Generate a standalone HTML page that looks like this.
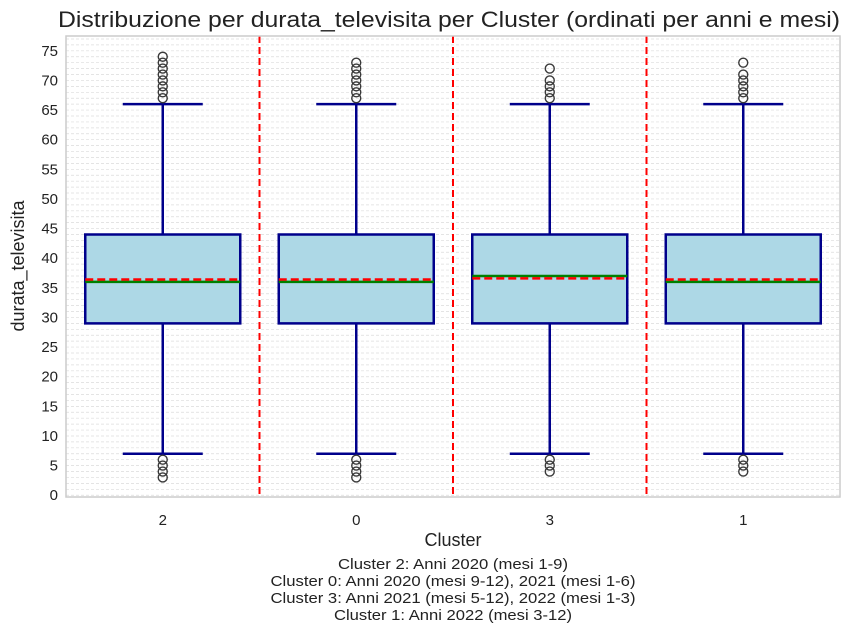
<!DOCTYPE html>
<html><head><meta charset="utf-8"><style>
body{margin:0;background:#fff;font-family:"Liberation Sans",sans-serif}
</style></head><body>
<svg id="chart" width="858" height="634" xmlns="http://www.w3.org/2000/svg" font-family="Liberation Sans, sans-serif">
<text x="449" y="27" font-size="22" text-anchor="middle" fill="#222" textLength="782" lengthAdjust="spacingAndGlyphs">Distribuzione per durata_televisita per Cluster (ordinati per anni e mesi)</text>
<g id="grid"></g>
<g id="marks"></g>
<rect x="66" y="36" width="774" height="461" fill="none" stroke="#ccc" stroke-width="1.5"/>
<g id="yticks" font-size="15" fill="#222" text-anchor="end"></g>
<g id="xticks" font-size="15" fill="#222" text-anchor="middle"></g>
<text x="24" y="266" font-size="18" fill="#222" text-anchor="middle" transform="rotate(-90 24 266)">durata_televisita</text>
<text x="453" y="546" font-size="18" fill="#222" text-anchor="middle">Cluster</text>
<g font-size="15" fill="#222" text-anchor="middle">
<text x="453" y="569" textLength="230" lengthAdjust="spacingAndGlyphs">Cluster 2: Anni 2020 (mesi 1-9)</text>
<text x="453" y="586" textLength="365" lengthAdjust="spacingAndGlyphs">Cluster 0: Anni 2020 (mesi 9-12), 2021 (mesi 1-6)</text>
<text x="453" y="603" textLength="365" lengthAdjust="spacingAndGlyphs">Cluster 3: Anni 2021 (mesi 5-12), 2022 (mesi 1-3)</text>
<text x="453" y="620" textLength="238" lengthAdjust="spacingAndGlyphs">Cluster 1: Anni 2022 (mesi 3-12)</text>
</g>
</svg>
<script>
const categories=["2","0","3","1"];
const q1=[29,29,29,29];
const q3=[44,44,44,44];
const medians=[36,36,37,36];
const means=[36.4,36.4,36.6,36.4];
const whiskLow=[7,7,7,7];
const whiskHigh=[66,66,66,66];
const outHigh=[[67,68,69,70,71,72,73,74],[67,68,69,70,71,72,73],[67,68,69,70,72],[67,68,69,70,71,73]];
const outLow=[[3,4,5,6],[3,4,5,6],[4,5,6],[4,5,6]];
const yTicks=[0,5,10,15,20,25,30,35,40,45,50,55,60,65,70,75];
const NS="http://www.w3.org/2000/svg";
const X0=66,X1=840,YMIN=-0.3,YMAX=77.5,PT=36,PB=497;
const y=v=>PB-(v-YMIN)/(YMAX-YMIN)*(PB-PT);
const band=(X1-X0)/categories.length;
const xc=i=>X0+band*(i+0.5);
function mk(tag,attrs,parent){const e=document.createElementNS(NS,tag);for(const k in attrs)e.setAttribute(k,attrs[k]);parent.appendChild(e);return e;}
const grid=document.getElementById('grid'),marks=document.getElementById('marks');
for(let v=0;v<=77;v++){
 const g=mk('line',{x1:X0,x2:X1,y1:y(v),y2:y(v),stroke:'#dcdcdc','stroke-width':0.7,'stroke-dasharray':'3,2'},grid);
 
 
}
const yt=document.getElementById('yticks');
yTicks.forEach(v=>{const t=mk('text',{x:58,y:y(v)+5},yt);t.textContent=v;
 
 });
const xt=document.getElementById('xticks');
categories.forEach((c,i)=>{const t=mk('text',{x:xc(i),y:525},xt);t.textContent=c;
 
 });
for(let i=1;i<categories.length;i++){
 const l=mk('line',{x1:X0+band*i,x2:X0+band*i,y1:PT,y2:PB,stroke:'#f00','stroke-width':2,'stroke-dasharray':'7,4'},marks);
 
 
}
const bw=155,cw=80;
categories.forEach((c,i)=>{
 const cx=xc(i);
 const g=mk('g',{},marks);
 
 
 const st={stroke:'#00008b','stroke-width':2.5};
 mk('line',Object.assign({x1:cx,x2:cx,y1:y(q3[i]),y2:y(whiskHigh[i])},st),g);
 mk('line',Object.assign({x1:cx,x2:cx,y1:y(q1[i]),y2:y(whiskLow[i])},st),g);
 mk('line',Object.assign({x1:cx-cw/2,x2:cx+cw/2,y1:y(whiskHigh[i]),y2:y(whiskHigh[i])},st),g);
 mk('line',Object.assign({x1:cx-cw/2,x2:cx+cw/2,y1:y(whiskLow[i]),y2:y(whiskLow[i])},st),g);
 mk('rect',Object.assign({x:cx-bw/2,y:y(q3[i]),width:bw,height:y(q1[i])-y(q3[i]),fill:'#add8e6'},st),g);
 mk('line',{x1:cx-bw/2,x2:cx+bw/2,y1:y(medians[i]),y2:y(medians[i]),stroke:'#008000','stroke-width':2.5},g);
 mk('line',{x1:cx-bw/2,x2:cx+bw/2,y1:y(means[i]),y2:y(means[i]),stroke:'#f00','stroke-width':2.5,'stroke-dasharray':'8,4'},g);
 outHigh[i].concat(outLow[i]).forEach(v=>{
  const o=mk('circle',{cx:cx,cy:y(v),r:4.5,fill:'none',stroke:'#3a3a3a','stroke-width':1.4},g);
  
  
 });
});
</script>
</body></html>
